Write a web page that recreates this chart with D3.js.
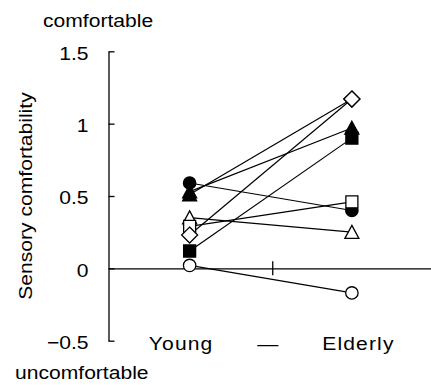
<!DOCTYPE html>
<html><head><meta charset="utf-8">
<script src="https://cdn.jsdelivr.net/npm/d3@7"></script>
<style>body{margin:0;background:#fff}svg{display:block}</style>
</head><body>
<svg id="c" width="431" height="385"></svg>
<script>
// ---- data ----
const categories = ["Young", "—", "Elderly"];
const categoryPos = [1, 2, 3];
const seriesIds = ["s1", "s2", "s3", "s4", "s5", "s6", "s7", "s8"];
const youngValues   = [0.51, 0.53, 0.12, 0.59, 0.35, 0.29, 0.23, 0.02];
const elderlyValues = [1.17, 0.97, 0.90, 0.40, 0.25, 0.46, 1.17, -0.17];
const youngShapes   = ["triangle", "triangle", "square", "circle", "triangle", "square", "diamond", "circle"];
const elderlyShapes = ["diamond", "triangle", "square", "circle", "triangle", "square", "diamond", "circle"];
const markerFilled  = [true, true, true, true, false, false, false, false];
const yTicks = [-0.5, 0, 0.5, 1, 1.5];
const yLabel = "Sensory comfortability";
const topNote = "comfortable";
const bottomNote = "uncomfortable";

// ---- layout ----
const svg = d3.select("#c");
const FONT = "'Liberation Sans', Arial, sans-serif";
const FS = 18.5, SX = 1.14;
const x = d3.scaleLinear().domain([0, 4]).range([108.5, 433]);
const y = d3.scaleLinear().domain([-0.5, 1.5]).range([340.7, 51.3]);

// y axis (ticks pointing inward)
const yAxis = d3.axisLeft(y).tickValues(yTicks).tickSizeInner(-6).tickSizeOuter(0).tickPadding(20)
  .tickFormat(d3.format(""));
const gy = svg.append("g").attr("transform", `translate(${x(0)},0)`).call(yAxis);
gy.select(".domain").attr("stroke", "#000").attr("stroke-width", 1.3);
gy.selectAll(".tick line").attr("stroke", "#000").attr("stroke-width", 1.3);
gy.selectAll(".tick text").attr("font-family", FONT).attr("font-size", FS).attr("fill", "#000")
  .attr("x", -20 / SX).attr("dy", "0.43em").attr("transform", `scale(${SX},1)`);

// zero line with middle tick
const zeroAxis = d3.axisBottom(x).tickValues([2]).tickSizeInner(7).tickSizeOuter(0).tickFormat("");
const gz = svg.append("g").attr("transform", `translate(0,${y(0)})`).call(zeroAxis);
gz.select(".domain").attr("stroke", "#000").attr("stroke-width", 1.3);
gz.selectAll(".tick line").attr("stroke", "#000").attr("stroke-width", 1.3)
  .attr("x1", 1.5).attr("x2", 1.5).attr("y1", -7).attr("y2", 7);

// category labels at bottom
const labelShift = [-9, -3, 6];
const catAxis = d3.axisBottom(x).tickValues(categoryPos).tickSize(0)
  .tickFormat((d, i) => categories[i]);
const gc = svg.append("g").attr("transform", `translate(0,${y(-0.5)})`).call(catAxis);
gc.select(".domain").remove();
gc.selectAll(".tick text").attr("font-family", FONT).attr("font-size", FS).attr("fill", "#000")
  .attr("letter-spacing", 1)
  .attr("x", (d, i) => labelShift[i] / SX)
  .attr("y", 0).attr("dy", 9.5).attr("transform", `scale(${SX},1)`);

// notes
svg.append("text").attr("font-family", FONT).attr("font-size", FS)
  .attr("transform", `translate(43,27) scale(${SX},1)`).text(topNote);
svg.append("text").attr("font-family", FONT).attr("font-size", FS)
  .attr("transform", `translate(15,379) scale(${SX},1)`).text(bottomNote);
svg.append("text").attr("font-family", FONT).attr("font-size", FS).attr("text-anchor", "middle")
  .attr("transform", `translate(31.5,196) rotate(-90) scale(${SX},1)`).text(yLabel);

// series
const series = seriesIds.map((id, i) => ({
  id, filled: markerFilled[i],
  pts: [
    { c: categoryPos[0], v: youngValues[i], shape: youngShapes[i] },
    { c: categoryPos[2], v: elderlyValues[i], shape: elderlyShapes[i] }
  ]
}));

const line = d3.line().x(d => x(d.c)).y(d => y(d.v));
svg.append("g").selectAll("path").data(series).join("path")
  .attr("d", s => line(s.pts)).attr("fill", "none").attr("stroke", "#000").attr("stroke-width", 1.2);

function shapePath(shape) {
  switch (shape) {
    case "diamond": return "M0,-8L8,0L0,8L-8,0Z";
    case "triangle": return "M0,-6.8L7,6.2L-7,6.2Z";
    case "square": return "M-6,-6H6V6H-6Z";
    default: return "M6.2,0A6.2,6.2,0,1,1,-6.2,0A6.2,6.2,0,1,1,6.2,0Z";
  }
}
const mg = svg.append("g");
series.forEach(s => {
  s.pts.forEach(p => {
    mg.append("path")
      .attr("d", shapePath(p.shape))
      .attr("transform", `translate(${x(p.c)},${y(p.v)})`)
      .attr("fill", s.filled ? "#000" : "#fff")
      .attr("stroke", "#000").attr("stroke-width", 1.3);
  });
});
</script>
</body></html>
